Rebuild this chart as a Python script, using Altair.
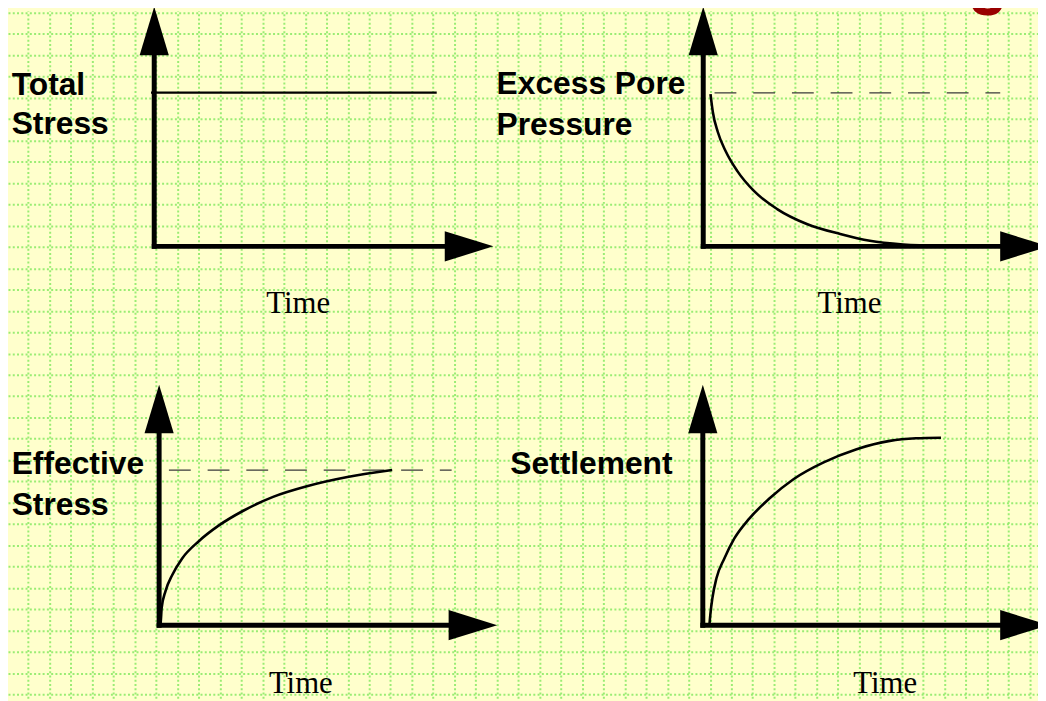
import altair as alt
import pandas as pd

# ------------------------------------------------------------------
# Values. Units: cells of the background grid.
# time = cells to the right of each panel's vertical axis,
# value = cells above each panel's horizontal axis.
# ------------------------------------------------------------------
PANEL_IDS = ["total", "pore", "effective", "settlement"]
PANEL_TITLES = [["Total", "Stress"], ["Excess Pore", "Pressure"],
                ["Effective", "Stress"], ["Settlement"]]
AXIS_LABEL = "Time"

TOTAL_TIME = [-0.15, 13.26]
TOTAL_VALUE = [7.22, 7.22]

PORE_TIME = [0.34, 0.45, 0.68, 1.06, 1.61, 2.39, 3.47, 4.86, 6.43, 7.82, 9.38, 11.24]
PORE_VALUE = [7.15, 6.31, 5.38, 4.45, 3.52, 2.59, 1.75, 1.05, 0.58, 0.26, 0.09, 0.02]
PORE_REF_TIME = [0.53, 13.94]
PORE_REF_VALUE = 7.20

EFF_TIME = [0.0, 0.07, 0.12, 0.30, 0.61, 1.08, 1.85, 2.79, 3.95, 5.35, 6.98, 8.84, 10.94]
EFF_VALUE = [0.0, 0.11, 0.81, 1.60, 2.34, 3.13, 3.93, 4.67, 5.37, 6.02, 6.53, 6.95, 7.28]
EFF_REF_TIME = [0.46, 13.73]
EFF_REF_VALUE = 7.28

SET_TIME = [0.31, 0.36, 0.45, 0.64, 1.01, 1.48, 2.18, 3.11, 4.27, 5.67, 7.22, 8.78, 10.01, 11.18]
SET_VALUE = [0.01, 0.57, 1.27, 2.20, 3.13, 4.07, 5.00, 5.93, 6.86, 7.64, 8.26, 8.65, 8.77, 8.80]

# axis extents (arrow tips) per panel
Y_AXIS_TIP = [11.25, 11.25, 11.29, 11.29]
X_AXIS_TIP = [15.92, 16.22, 15.87, 16.24]

PAGE_NUMBER = "3"

# ------------------------------------------------------------------
# Layout (slide coordinates in grid cells)
# ------------------------------------------------------------------
CELL = 21.47
W, H = 1038, 693
ORIGIN = {"total": (6.91, 10.97), "pore": (32.68, 10.97),
          "effective": (7.14, 28.75), "settlement": (32.66, 28.75)}
ARROW_LEN = 49 / CELL

X_DOMAIN = [(8 - 7) / CELL, (8 + W - 7) / CELL]
Y_DOMAIN = [(8 - 10) / CELL, (8 + H - 10) / CELL]

GRID_COLOR = "#8FEA6A"
XS = alt.Scale(domain=X_DOMAIN, nice=False, zero=False)
YS = alt.Scale(domain=Y_DOMAIN, nice=False, zero=False, reverse=True)
XA = alt.Axis(values=list(range(0, 49)), grid=True, labels=False, ticks=False,
              domain=False, gridColor=GRID_COLOR, gridDash=[2, 2.3], gridWidth=2,
              gridOpacity=0.9)
YA = alt.Axis(values=list(range(0, 33)), grid=True, labels=False, ticks=False,
              domain=False, gridColor=GRID_COLOR, gridDash=[2, 2.3], gridWidth=2,
              gridOpacity=0.9)


def ex(field):
    return alt.X(field, type="quantitative", scale=XS, axis=XA, title=None)


def ey(field):
    return alt.Y(field, type="quantitative", scale=YS, axis=YA, title=None)


def place(panel, t, v):
    ox, oy = ORIGIN[panel]
    return ox + t, oy - v


# ---- curve table ----
rows = []
for pid, ts, vs in [("pore", PORE_TIME, PORE_VALUE),
                    ("effective", EFF_TIME, EFF_VALUE),
                    ("settlement", SET_TIME, SET_VALUE)]:
    for t, v in zip(ts, vs):
        X, Y = place(pid, t, v)
        rows.append({"panel": pid, "time": t, "value": v, "X": X, "Y": Y})
curves = pd.DataFrame(rows)

total_rows = []
for t, v in zip(TOTAL_TIME, TOTAL_VALUE):
    X, Y = place("total", t, v)
    total_rows.append({"panel": "total", "X": X, "Y": Y})
total_df = pd.DataFrame(total_rows)

# ---- dashed reference levels ----
ref_rows = []
for pid, ts, v in [("pore", PORE_REF_TIME, PORE_REF_VALUE),
                   ("effective", EFF_REF_TIME, EFF_REF_VALUE)]:
    X1, Y1 = place(pid, ts[0], v)
    X2, _ = place(pid, ts[1], v)
    ref_rows.append({"panel": pid, "X": X1, "X2": X2, "Y": Y1})
ref_df = pd.DataFrame(ref_rows)

# ---- axes with arrowheads ----
axis_rows, up_rows, right_rows = [], [], []
for i, pid in enumerate(PANEL_IDS):
    ox, oy = ORIGIN[pid]
    ytip, xtip = Y_AXIS_TIP[i], X_AXIS_TIP[i]
    axis_rows.append({"X": ox, "X2": ox, "Y": oy, "Y2": oy - (ytip - ARROW_LEN * 0.9)})
    axis_rows.append({"X": ox, "X2": ox + (xtip - ARROW_LEN * 0.9), "Y": oy, "Y2": oy})
    up_rows.append({"X": ox, "Y": oy - (ytip - ARROW_LEN / 2)})
    right_rows.append({"X": ox + (xtip - ARROW_LEN / 2), "Y": oy})
axis_df = pd.DataFrame(axis_rows)
up_df = pd.DataFrame(up_rows)
right_df = pd.DataFrame(right_rows)

# ---- text ----
TITLE_POS = {"total": (0.22, [3.85, 5.70]), "pore": (22.98, [3.82, 5.73]),
             "effective": (0.22, [21.66, 23.57]), "settlement": (23.62, [21.66])}
TIME_POS = {"total": (13.67, 14.11), "pore": (39.54, 14.11),
            "effective": (13.79, 31.95), "settlement": (41.22, 31.95)}
title_rows, time_rows = [], []
for pid, lines in zip(PANEL_IDS, PANEL_TITLES):
    x0, ys = TITLE_POS[pid]
    for line, yy in zip(lines, ys):
        title_rows.append({"text": line, "X": x0, "Y": yy})
    tx, ty = TIME_POS[pid]
    time_rows.append({"text": AXIS_LABEL, "X": tx, "Y": ty})
title_df = pd.DataFrame(title_rows)
time_df = pd.DataFrame(time_rows)
page_df = pd.DataFrame([{"text": PAGE_NUMBER, "X": 46.02, "Y": 0.09}])

# ------------------------------------------------------------------
ref_layer = alt.Chart(ref_df).mark_rule(
    color="#3a3a3a", strokeWidth=1.3, strokeDash=[22, 17]
).encode(x=ex("X"), x2="X2", y=ey("Y"))

total_layer = alt.Chart(total_df).mark_line(color="black", strokeWidth=2.2).encode(
    x=ex("X"), y=ey("Y"), detail="panel:N")

curve_layer = alt.Chart(curves).mark_line(
    color="black", strokeWidth=2.6, interpolate="monotone"
).encode(x=ex("X"), y=ey("Y"), detail="panel:N")

axis_layer = alt.Chart(axis_df).mark_rule(
    color="black", strokeWidth=5, strokeCap="square"
).encode(x=ex("X"), x2="X2", y=ey("Y"), y2="Y2")

up_layer = alt.Chart(up_df).mark_point(
    shape="M0,-1L0.6,1L-0.6,1Z", size=2401, filled=True, color="black", opacity=1
).encode(x=ex("X"), y=ey("Y"))

right_layer = alt.Chart(right_df).mark_point(
    shape="M1,0L-1,0.62L-1,-0.62Z", size=2401, filled=True, color="black", opacity=1
).encode(x=ex("X"), y=ey("Y"))

title_layer = alt.Chart(title_df).mark_text(
    font="Liberation Sans", fontWeight="bold", fontSize=32, align="left",
    baseline="alphabetic", color="black"
).encode(x=ex("X"), y=ey("Y"), text="text:N")

time_layer = alt.Chart(time_df).mark_text(
    font="Liberation Serif", fontSize=31, align="center",
    baseline="alphabetic", color="black"
).encode(x=ex("X"), y=ey("Y"), text="text:N")

page_layer = alt.Chart(page_df).mark_text(
    font="Liberation Sans", fontWeight="bold", fontSize=64, align="center",
    baseline="alphabetic", color="#990000"
).encode(x=ex("X"), y=ey("Y"), text="text:N")

chart = alt.layer(
    ref_layer, total_layer, curve_layer, axis_layer, up_layer, right_layer,
    title_layer, time_layer, page_layer
).properties(
    width=W, height=H, padding=0,
    autosize=alt.AutoSizeParams(type="none")
).configure(background="#FFFFCC").configure_view(stroke=None)

chart.save("out.html", embed_options={"renderer": "svg", "actions": False})
